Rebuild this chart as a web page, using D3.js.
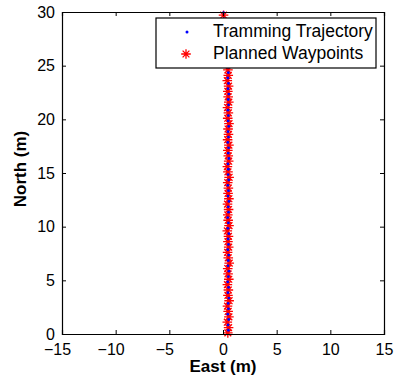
<!DOCTYPE html>
<html>
<head>
<meta charset="utf-8">
<script src="https://cdn.jsdelivr.net/npm/d3@7"></script>
<style>
  body { margin: 0; background: #fff; }
  svg { display: block; font-family: "Liberation Sans", Arial, sans-serif; }
</style>
</head>
<body>
<svg id="chart"></svg>
<script>
// Planned waypoints (red asterisks)
const wpEast = [0.45,0.52,0.40,0.55,0.48,0.42,0.57,0.46,0.50,0.41,0.54,0.47,0.44,0.58,0.49,0.43,0.53,0.46,0.51,0.40,
                0.56,0.48,0.45,0.52,0.42,0.55,0.47,0.50,0.44,0.57,0.46,0.41,0.53,0.49,0.45,0.55,0.43,0.51,0.47,0.56,
                0.44,0.50,0.42,0.54,0.48,0.45,0.52,0.40,0.49,0.46,0.38,0.33,0.30,0.25,0.22,0.18,0.14,0.10,0.07,0.05];
const wpNorth = [0.1,0.6,1.1,1.6,2.1,2.6,3.1,3.6,4.1,4.6,5.1,5.6,6.1,6.6,7.1,7.6,8.1,8.6,9.1,9.6,
                 10.1,10.6,11.1,11.6,12.1,12.6,13.1,13.6,14.1,14.6,15.1,15.6,16.1,16.6,17.1,17.6,18.1,18.6,19.1,19.6,
                 20.1,20.6,21.1,21.6,22.1,22.6,23.1,23.6,24.1,24.6,25.1,25.6,26.1,26.6,27.1,27.6,28.1,28.6,29.1,29.7];

// Tramming trajectory (blue dots)
const trEast = [0.50,0.47,0.53,0.45,0.51,0.48,0.54,0.46,0.52,0.44,0.50,0.55,0.47,0.49,0.53,0.45,0.51,0.48,0.54,0.46,
                0.50,0.44,0.52,0.49,0.55,0.47,0.51,0.45,0.53,0.48,0.50,0.46,0.54,0.49,0.52,0.45,0.51,0.47,0.53,0.48,
                0.50,0.46,0.52,0.49,0.54,0.47,0.51,0.45,0.50,0.48,0.42,0.37,0.33,0.28,0.24,0.20,0.16,0.12,0.08,0.05];
const trNorth = [0.35,0.85,1.35,1.85,2.35,2.85,3.35,3.85,4.35,4.85,5.35,5.85,6.35,6.85,7.35,7.85,8.35,8.85,9.35,9.85,
                 10.35,10.85,11.35,11.85,12.35,12.85,13.35,13.85,14.35,14.85,15.35,15.85,16.35,16.85,17.35,17.85,18.35,18.85,19.35,19.85,
                 20.35,20.85,21.35,21.85,22.35,22.85,23.35,23.85,24.35,24.85,25.35,25.85,26.35,26.85,27.35,27.85,28.35,28.85,29.35,29.95];

const xTicks = [-15, -10, -5, 0, 5, 10, 15];
const yTicks = [0, 5, 10, 15, 20, 25, 30];
const seriesNames = ["Tramming Trajectory", "Planned Waypoints"];

const width = 394, height = 382;
const margin = { top: 12, right: 10, bottom: 48, left: 62 };
const plotW = width - margin.left - margin.right;
const plotH = height - margin.top - margin.bottom;

const svg = d3.select("#chart").attr("width", width).attr("height", height);
const g = svg.append("g").attr("transform", `translate(${margin.left},${margin.top})`);

const x = d3.scaleLinear().domain([-15, 15]).range([0, plotW]);
const y = d3.scaleLinear().domain([0, 30]).range([plotH, 0]);

function asterisk(r) {
  const d = r * Math.SQRT1_2;
  return `M${-r},0L${r},0M0,${-r}L0,${r}M${-d},${-d}L${d},${d}M${-d},${d}L${d},${-d}`;
}

const waypoints = wpEast.map((e, i) => ({ e: e, n: wpNorth[i] }));
const trajectory = trEast.map((e, i) => ({ e: e, n: trNorth[i] }));

g.append("g").selectAll("path")
  .data(waypoints)
  .join("path")
  .attr("transform", d => `translate(${x(d.e)},${y(d.n)})`)
  .attr("d", asterisk(4.8))
  .attr("stroke", "#ff0000")
  .attr("stroke-width", 1.3)
  .attr("fill", "none");

g.append("g").selectAll("circle")
  .data(trajectory)
  .join("circle")
  .attr("cx", d => x(d.e))
  .attr("cy", d => y(d.n))
  .attr("r", 1.4)
  .attr("fill", "#0000ff");

// axes: ticks inward on all four sides
const fmt = d => d < 0 ? "\u2212" + Math.abs(d) : String(d);

const xAxis = g.append("g")
  .attr("transform", `translate(0,${plotH})`)
  .call(d3.axisBottom(x).tickValues(xTicks).tickSize(-4).tickPadding(10).tickFormat(fmt));
xAxis.selectAll("text").attr("dx", d => d < 0 ? -5 : 0);

g.append("g")
  .call(d3.axisTop(x).tickValues(xTicks).tickSize(-4).tickFormat(""));

g.append("g")
  .call(d3.axisLeft(y).tickValues(yTicks).tickSize(-4).tickPadding(7).tickFormat(fmt));

g.append("g")
  .attr("transform", `translate(${plotW},0)`)
  .call(d3.axisRight(y).tickValues(yTicks).tickSize(-4).tickFormat(""));

g.selectAll(".domain").attr("stroke", "#000").attr("stroke-width", 1.2);
g.selectAll(".tick line").attr("stroke", "#000");
g.selectAll(".tick text").attr("font-size", 16).attr("fill", "#000")
  .style("font-family", "'Liberation Sans', Arial, sans-serif");

// axis titles
svg.append("text")
  .attr("x", margin.left + plotW / 2)
  .attr("y", 372)
  .attr("text-anchor", "middle")
  .attr("font-size", 17)
  .attr("font-weight", "bold")
  .text("East (m)");

svg.append("text")
  .attr("transform", `translate(26,${margin.top + plotH / 2 - 4}) rotate(-90)`)
  .attr("text-anchor", "middle")
  .attr("font-size", 17)
  .attr("font-weight", "bold")
  .text("North (m)");

// legend
const legend = svg.append("g").attr("transform", "translate(156,18)");
legend.append("rect")
  .attr("width", 220).attr("height", 50)
  .attr("fill", "#fff").attr("stroke", "#000").attr("stroke-width", 1.2);

legend.append("circle").attr("cx", 31).attr("cy", 14).attr("r", 1.5).attr("fill", "#0000ff");
legend.append("path")
  .attr("transform", "translate(30,36)")
  .attr("d", asterisk(4.8))
  .attr("stroke", "#ff0000").attr("stroke-width", 1.3).attr("fill", "none");

legend.selectAll("text.lbl")
  .data(seriesNames)
  .join("text")
  .attr("class", "lbl")
  .attr("x", 57)
  .attr("y", (d, i) => 19 + i * 22)
  .attr("font-size", 17.5)
  .text(d => d);
</script>
</body>
</html>
